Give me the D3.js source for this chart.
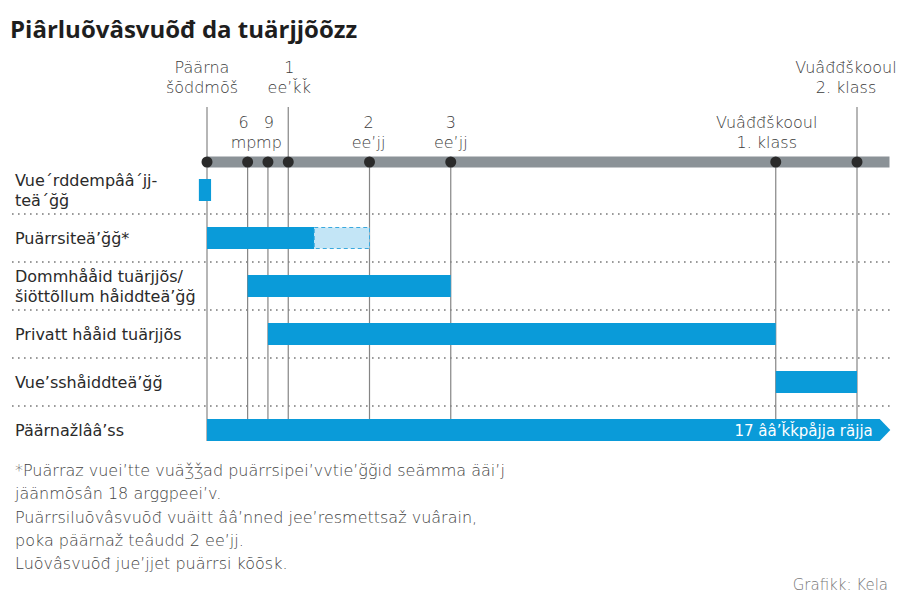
<!DOCTYPE html>
<html><head><meta charset="utf-8">
<script src="https://cdn.jsdelivr.net/npm/d3@7/dist/d3.min.js"></script>
<style>
body{margin:0;background:#fff;}
svg{display:block;font-family:"DejaVu Sans","Noto Sans",sans-serif;}
</style></head><body>
<svg id="c" width="900" height="605"></svg>
<script>
const title = "Piârluõvâsvuõđ da tuärjjõõzz";
// timeline milestones (years from birth)
const milestoneYears = [0, 0.5, 0.75, 1, 2, 3, 7, 8];
const milestoneLabels = [["Päärna","šõddmõš"],["6","mp"],["9","mp"],["1","ee’ǩǩ"],["2","ee’jj"],["3","ee’jj"],["Vuâđđškooul","1. klass"],["Vuâđđškooul","2. klass"]];
const milestoneHigh = [true,false,false,true,false,false,false,true];
const milestoneLabelShift = [-5,-4,1,1,-1,0,-9,-11];
const axisEnd = 8.4;
// rows
const rowLabels = [["Vue´rddempââ´jj-","teä´ğğ"],["Puärrsiteä’ğğ*"],["Dommhååid tuärjjõs/","šiöttõllum håiddteä’ğğ"],["Privatt hååid tuärjjõs"],["Vue’sshåiddteä’ğğ"],["Päärnažlââ’ss"]];
const barStart = [-0.1, 0, 0.5, 0.75, 7, 0];
const barEnd   = [0.05, 1.32, 3, 7, 8, 8.28];
const extStart = [null, 1.32, null, null, null, null];
const extEnd   = [null, 2, null, null, null, null];
const arrowRow = 5, arrowTip = 8.41;
const arrowText = "17 ââ’ǩǩpåjja räjja";
const footnote = ["*Puärraz vuei’tte vuäǯǯad puärrsipei’vvtie’ğğid seämma ääi’j","jäänmõsân 18 arggpeei’v.","Puärrsiluõvâsvuõđ vuäitt ââ’nned jee’resmettsaž vuârain,","poka päärnaž teâudd 2 ee’jj.","Luõvâsvuõđ jue’jjet puärrsi kõõsk."];
const credit = "Grafikk: Kela";

const svg = d3.select("#c");
const x = d3.scaleLinear().domain([0, 8]).range([207, 857]);
const y = d3.scaleBand().domain(d3.range(rowLabels.length)).range([166, 454]).padding(0);
const blue = "#0a9bd9";

svg.append("text").attr("x",10).attr("y",38).text(title)
  .attr("font-family","'Open Sans',sans-serif")
  .attr("font-size",24).attr("font-weight",700).attr("fill","#1e1e1e");

// separators
y.domain().slice(1).forEach(i=>{
  svg.append("line").attr("x1",12).attr("x2",890).attr("y1",y(i)).attr("y2",y(i))
    .attr("stroke","#9a9a9a").attr("stroke-width",2).attr("stroke-dasharray","1.6 4.4");
});

const lineBottom = y(rowLabels.length-1)+y.bandwidth()/2+11;
const bandY = 162;
// vertical lines
milestoneYears.forEach((t,i)=>{
  svg.append("line").attr("x1",x(t)).attr("x2",x(t))
    .attr("y1", milestoneHigh[i]?107:bandY).attr("y2",lineBottom)
    .attr("stroke","#858585").attr("stroke-width",1.2);
});
// band
svg.append("rect").attr("x",x(0)).attr("width",x(axisEnd)-x(0)).attr("y",bandY-5.5).attr("height",11).attr("fill","#8b9297");
svg.selectAll("circle.m").data(milestoneYears).join("circle").attr("cx",d=>x(d)).attr("cy",bandY).attr("r",5.5).attr("fill","#2a2a2a");
// milestone labels
milestoneYears.forEach((t,i)=>{
  const base = milestoneHigh[i]?73:128;
  const tx = svg.append("text").attr("text-anchor","middle").attr("font-size",16).attr("font-weight",200).attr("fill","#3c3c3c");
  milestoneLabels[i].forEach((s,j)=>{
    tx.append("tspan").attr("x",x(t)+milestoneLabelShift[i]).attr("y",base+j*19.5).text(s);
  });
});

// bars
rowLabels.forEach((lab,i)=>{
  const cy = y(i)+y.bandwidth()/2;
  if(i===arrowRow){
    const x0=x(barStart[i]), x1=x(barEnd[i]), xt=x(arrowTip);
    svg.append("path").attr("d",`M${x0},${cy-11}L${x1},${cy-11}L${xt},${cy}L${x1},${cy+11}L${x0},${cy+11}Z`).attr("fill",blue);
    svg.append("text").attr("x",x1-7).attr("y",cy+6).attr("text-anchor","end").attr("font-size",15).attr("fill","#fff").text(arrowText);
  } else {
    svg.append("rect").attr("x",x(barStart[i])).attr("width",x(barEnd[i])-x(barStart[i])).attr("y",cy-11).attr("height",22).attr("fill",blue);
    if(extStart[i]!==null){
      svg.append("rect").attr("x",x(extStart[i])).attr("width",x(extEnd[i])-x(extStart[i])).attr("y",cy-10.5).attr("height",21)
        .attr("fill","#c3e5f6").attr("stroke","#3aa9de").attr("stroke-width",1).attr("stroke-dasharray","4 3");
    }
  }
  const t = svg.append("text").attr("font-size",16).attr("fill","#2a2a2a");
  if(lab.length===1){
    t.append("tspan").attr("x",15).attr("y",cy+6).text(lab[0]);
  } else {
    lab.forEach((s,j)=>t.append("tspan").attr("x",15).attr("y",cy-4+j*20).text(s));
  }
});

// footnote
const fn = svg.append("text").attr("font-size",16).attr("font-weight",200).attr("fill","#444");
footnote.forEach((s,j)=>fn.append("tspan").attr("x",15).attr("y",476+j*23.3).text(s));
svg.append("text").attr("x",888).attr("y",590).attr("text-anchor","end").attr("font-size",15).attr("font-weight",200).attr("fill","#777").text(credit);
</script></body></html>
